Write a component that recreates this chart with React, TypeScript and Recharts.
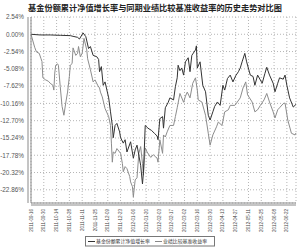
import { LineChart, Line, XAxis, YAxis, CartesianGrid, Legend } from 'recharts';

const title = '基金份额累计净值增长率与同期业绩比较基准收益率的历史走势对比图';
const fundName = '基金份额累计净值增长率';
const benchName = '业绩比较基准收益率';

// x positions are calendar days after 2011-09-16
const tickDays = [0, 14, 28, 42, 56, 70, 84, 98, 112, 126, 140, 154, 168, 182, 196, 210, 224, 238, 252, 266, 280];
const tickLabels = [
  '2011-09-16', '2011-09-30', '2011-10-14', '2011-10-28', '2011-11-11', '2011-11-25', '2011-12-09',
  '2011-12-23', '2012-01-06', '2012-01-20', '2012-02-03', '2012-02-17', '2012-03-02', '2012-03-16',
  '2012-03-30', '2012-04-13', '2012-04-27', '2012-05-11', '2012-05-25', '2012-06-08', '2012-06-22',
];
const yTicks = [2.54, 0, -2.54, -5.08, -7.62, -10.16, -12.7, -15.24, -17.78, -20.32, -22.86];

const fundDays = [
  0, 10, 21, 32, 43, 46, 51, 53, 55, 57, 60, 63, 65, 68, 72, 74, 75, 77, 79, 81, 85, 87, 89, 90, 92, 94, 97, 98,
  101, 103, 105, 109, 112, 114, 116, 120, 122, 123, 125, 128, 132, 135, 138, 139, 141, 144, 145, 147, 150, 152,
  156, 158, 160, 161, 163, 165, 167, 169, 172, 174, 176, 180, 181, 182, 185, 188, 191, 194, 196, 199, 201, 204,
  207, 210, 212, 215, 218, 221, 224, 227, 229, 231, 234, 236, 240, 243, 245, 248, 253, 256, 258, 261, 265, 267,
  270, 272, 276, 278, 280, 283, 287, 290,
];
const fundValues = [
  0, -0.1, -0.1, -0.15, -0.2, -0.3, -0.45, -0.7, -0.25, 0.2, -0.35, -2.1, -1.8, -3.1, -3.3, -3.7, -5.5, -4.75,
  -7.5, -7.0, -9.35, -11.4, -13.4, -15.2, -13.4, -13.1, -14.35, -15.2, -16.0, -15.5, -17.3, -15.8, -18.2, -17.0,
  -16.3, -19.25, -22.0, -20.4, -13.4, -13.8, -14.15, -14.55, -14.95, -15.5, -12.4, -12.1, -13.8, -10.8, -10.05,
  -9.35, -9.65, -7.7, -6.4, -4.55, -5.35, -4.95, -6.0, -4.05, -3.45, -5.5, -3.1, -2.3, -1.7, -4.95, -4.05, -7.5,
  -8.45, -11.9, -12.6, -11.4, -10.6, -9.95, -10.45, -7.5, -8.2, -6.5, -6.0, -7.0, -6.1, -5.5, -4.95, -4.05, -2.8,
  -4.05, -6.0, -6.2, -7.5, -6.0, -7.2, -5.75, -4.85, -6.0, -7.2, -8.45, -7.2, -6.4, -6.6, -6.0, -7.5, -9.35,
  -10.7, -10.3,
];

const benchDays = [
  0, 4, 6, 9, 11, 12, 13, 16, 19, 21, 24, 25, 26, 27, 29, 30, 32, 34, 36, 38, 40, 42, 43, 45, 46, 49, 51, 52, 54,
  56, 58, 61, 62, 65, 68, 70, 73, 75, 76, 78, 81, 85, 87, 88, 89, 90, 92, 94, 98, 100, 101, 103, 105, 108, 109,
  111, 112, 114, 116, 118, 120, 122, 123, 125, 127, 131, 134, 136, 138, 139, 141, 144, 145, 147, 149, 152, 156,
  158, 160, 163, 167, 169, 171, 174, 177, 180, 182, 183, 187, 191, 194, 196, 199, 203, 205, 209, 212, 216, 218,
  223, 225, 229, 232, 235, 237, 242, 245, 248, 251, 255, 258, 261, 265, 267, 270, 272, 276, 278, 281, 285, 289, 290,
];
const benchValues = [
  0, -1.9, -2.6, -2.8, -3.6, -4.0, -6.4, -6.7, -6.9, -7.2, -7.5, -8.2, -5.7, -4.55, -4.35, -4.55, -7.7, -10.6,
  -11.9, -10.1, -8.5, -6.2, -4.55, -4.3, -2.0, -3.1, -2.8, -1.8, -3.3, -2.8, -0.6, -2.3, -3.6, -5.2, -7.0, -6.7,
  -7.5, -7.9, -8.5, -9.2, -10.9, -12.1, -13.4, -16.0, -18.8, -17.3, -17.5, -16.8, -17.5, -19.0, -20.2, -19.45,
  -19.75, -20.9, -21.7, -22.4, -23.9, -21.4, -21.1, -17.5, -16.5, -19.0, -20.7, -16.7, -17.3, -18.1, -17.7,
  -18.0, -18.2, -18.8, -15.5, -17.5, -14.8, -15.1, -14.35, -13.4, -13.4, -12.1, -10.8, -8.7, -10.0, -9.1, -8.5,
  -9.35, -7.2, -6.4, -8.2, -9.65, -9.95, -11.9, -14.55, -16.3, -14.8, -13.6, -12.9, -13.4, -11.4, -11.1, -10.45,
  -10.45, -10.1, -9.35, -7.9, -7.0, -8.9, -9.95, -11.4, -11.1, -10.45, -9.65, -8.7, -9.95, -11.4, -12.3, -11.1,
  -10.8, -10.2, -10.1, -12.6, -14.55, -14.8, -14.5,
];

const fundData = fundDays.map((t, i) => ({ t, v: fundValues[i] }));
const benchData = benchDays.map((t, i) => ({ t, v: benchValues[i] }));

const axisColor = '#8a8a8a';

const DateTick = (props: any) => {
  const { x, y, payload } = props;
  const idx = tickDays.indexOf(payload.value);
  return (
    <text
      x={x}
      y={y}
      dy={1.6}
      transform={`rotate(-90 ${x} ${y})`}
      textAnchor="end"
      fontSize={4.5}
      fill="#444"
      fontFamily="Liberation Sans, Arial, sans-serif"
    >
      {tickLabels[idx]}
    </text>
  );
};

// legend drawn in svg so tiny text is not clamped
const LegendBox = () => (
  <svg width={300} height={13} style={{ display: 'block' }}>
    <rect x={85.5} y={1.5} width={129} height={9.5} fill="#fff" stroke="#777" strokeWidth={1} />
    <line x1={88} x2={95} y1={6.5} y2={6.5} stroke="#333" strokeWidth={1} />
    <text x={96} y={8.3} fontSize={4.9} fill="#333" fontFamily="Noto Sans CJK SC, sans-serif">
      {fundName}
    </text>
    <line x1={155} x2={162} y1={6.5} y2={6.5} stroke="#888" strokeWidth={1} />
    <text x={163} y={8.3} fontSize={4.9} fill="#333" fontFamily="Noto Sans CJK SC, sans-serif">
      {benchName}
    </text>
  </svg>
);

export default function App() {
  return (
    <div style={{ position: 'absolute', left: 0, top: 0, width: 300, height: 248, background: '#fff' }}>
      <svg width={300} height={16} style={{ position: 'absolute', left: 0, top: 0 }}>
        <text
          x={155}
          y={11}
          textAnchor="middle"
          fontSize={8.2}
          fontWeight="bold"
          fill="#222"
          fontFamily="Noto Sans CJK SC, sans-serif"
        >
          {title}
        </text>
      </svg>
      <LineChart width={300} height={248} margin={{ top: 17, right: 4, left: 0, bottom: 0 }}>
        <CartesianGrid xAxisId="main" yAxisId="main" stroke="#b5b5b5" strokeDasharray="1 2" />
        <XAxis
          xAxisId="inner"
          dataKey="t"
          type="number"
          domain={[0, 290]}
          height={2}
          tick={false}
          tickLine={false}
          axisLine={{ stroke: axisColor }}
        />
        <XAxis
          xAxisId="main"
          dataKey="t"
          type="number"
          domain={[0, 290]}
          ticks={tickDays}
          interval={0}
          height={30}
          tickSize={2}
          tickLine={false}
          tick={<DateTick />}
          axisLine={{ stroke: axisColor }}
        />
        <YAxis
          yAxisId="inner"
          type="number"
          domain={[-24.8, 2.54]}
          width={3}
          tick={false}
          tickLine={false}
          axisLine={{ stroke: axisColor }}
        />
        <YAxis
          yAxisId="main"
          type="number"
          domain={[-24.8, 2.54]}
          ticks={yTicks}
          interval={0}
          width={28}
          tickSize={2}
          tickLine={false}
          axisLine={{ stroke: axisColor }}
          tick={{ fontSize: 6.4, fill: '#555', fontFamily: 'Liberation Sans, Arial, sans-serif' }}
          tickFormatter={(v: number) => `${v.toFixed(2)}%`}
        />
        <Legend verticalAlign="bottom" height={13} content={<LegendBox />} />
        <Line
          xAxisId="main"
          yAxisId="main"
          data={benchData}
          dataKey="v"
          name={benchName}
          stroke="#8c8c8c"
          strokeWidth={1}
          dot={false}
          isAnimationActive={false}
        />
        <Line
          xAxisId="main"
          yAxisId="main"
          data={fundData}
          dataKey="v"
          name={fundName}
          stroke="#333"
          strokeWidth={1}
          dot={false}
          isAnimationActive={false}
        />
      </LineChart>
    </div>
  );
}
